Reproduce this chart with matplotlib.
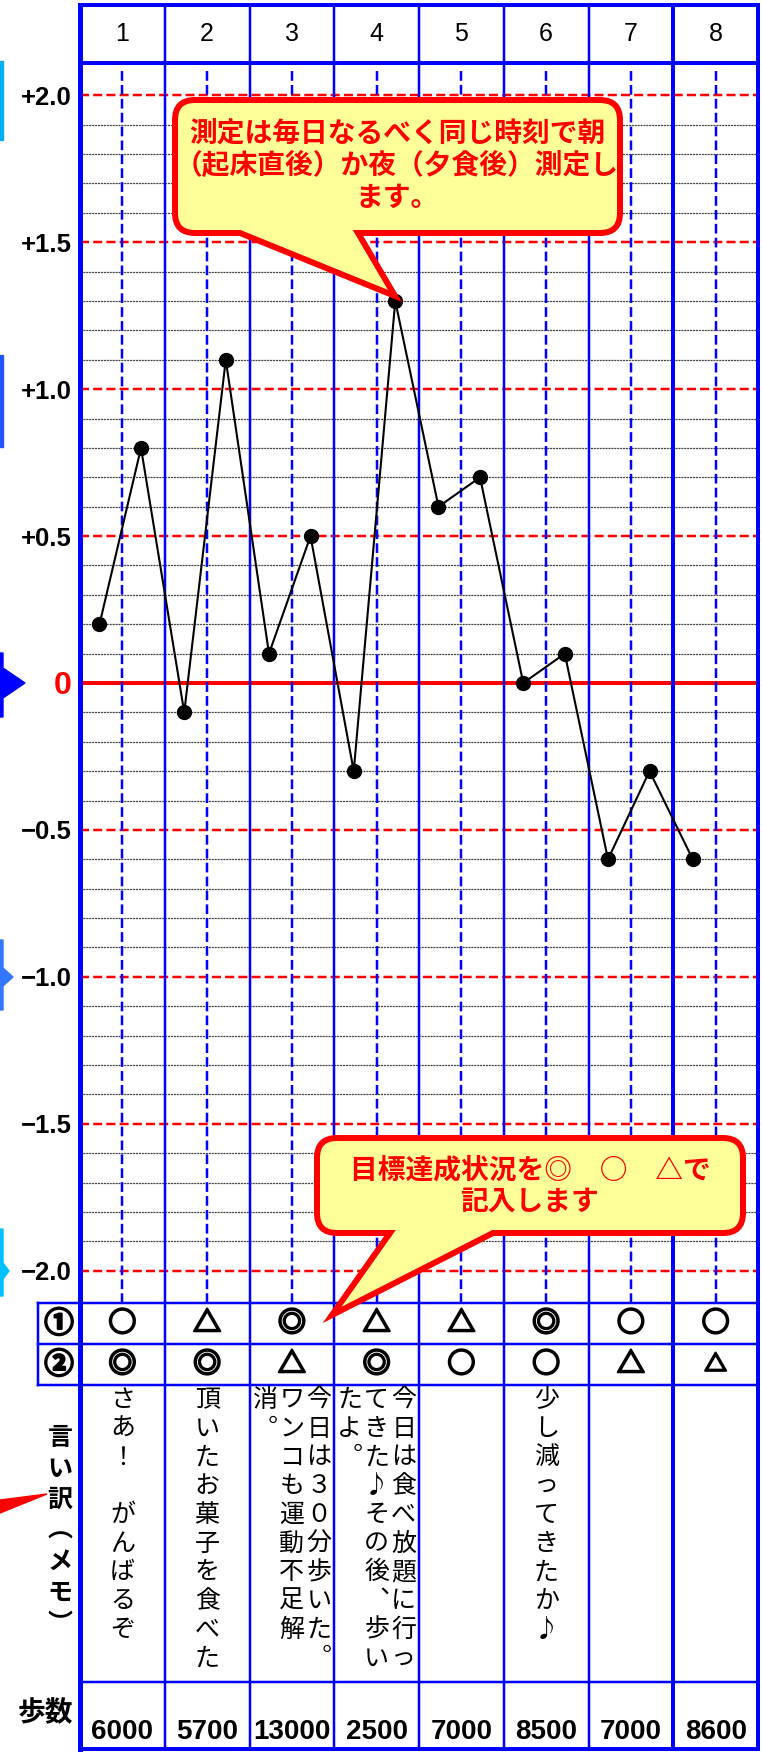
import numpy as np
import matplotlib
matplotlib.use("Agg")
import matplotlib.pyplot as plt
import matplotlib.patheffects as pe
from matplotlib.path import Path
from matplotlib.patches import PathPatch, Polygon

plt.rcParams['lines.scale_dashes'] = False
CJK = ['Noto Sans CJK JP', 'DejaVu Sans']
LAT = ['Liberation Sans', 'DejaVu Sans']

# ---- data ----
days = [1, 2, 3, 4, 5, 6, 7, 8]
morning = [0.2, -0.1, 0.1, -0.3, 0.6, 0.0, -0.6, -0.6]
evening = [0.8, 1.1, 0.5, 1.3, 0.7, 0.1, -0.3, np.nan]
ytick_vals = [2.0, 1.5, 1.0, 0.5, 0.0, -0.5, -1.0, -1.5, -2.0]
ytick_labels = ["+2.0", "+1.5", "+1.0", "+0.5", "0", "−0.5", "−1.0", "−1.5", "−2.0"]
goal1 = ["○", "△", "◎", "△", "△", "◎", "○", "○"]
goal2 = ["◎", "◎", "△", "◎", "○", "○", "△", "△"]
memo = [["さあ！　がんばるぞ"],
        ["頂いたお菓子を食べた"],
        ["今日は３０分歩いた。", "ワンコも運動不足解", "消。"],
        ["今日は食べ放題に行っ", "てきた♪その後、歩い", "たよ。"],
        [],
        ["少し減ってきたか♪"],
        [],
        []]
steps = [6000, 5700, 13000, 2500, 7000, 8500, 7000, 8600]
memo_label = "言い訳（メモ）"
steps_label = "歩数"
note_top = ["測定は毎日なるべく同じ時刻で朝", "（起床直後）か夜（夕食後）測定し", "ます。"]
note_bottom = ["目標達成状況を◎　○　△で", "記入します"]

# ---- layout (pixels) ----
W, H = 762, 1753
X0, X1 = 80, 758
Y_TOP, Y_HEAD, Y_CHART, Y_END = 5, 63, 1303, 1749
PX = 0.72          # points per pixel at dpi 100
UNIT = (X1 - X0) / 8.0
BLUE = '#0000FF'
RED = '#FF0000'
THICK = [pe.withStroke(linewidth=1.6, foreground='black')]


def rect(x0, y0, x1, y1):
    return [x0 / W, 1 - y1 / H, (x1 - x0) / W, (y1 - y0) / H]


def bare(a):
    for s in a.spines.values():
        s.set_visible(False)
    a.set_xticks([])
    a.set_yticks([])
    a.patch.set_visible(False)


def col_lines(a):
    for k in range(9):
        lw = 5 if k == 0 else (4 if k in (7, 8) else 2.5)
        a.axvline(k, color=BLUE, lw=lw * PX, clip_on=False, zorder=3)


fig = plt.figure(figsize=(W / 100, H / 100), dpi=100, facecolor='white')

# header
axh = fig.add_axes(rect(X0, Y_TOP, X1, Y_HEAD))
bare(axh)
axh.set_xlim(0, 8)
axh.set_ylim(0, 1)
col_lines(axh)
axh.axhline(1, color=BLUE, lw=4 * PX, clip_on=False)
axh.axhline(0, color=BLUE, lw=4 * PX, clip_on=False)
for k, d in enumerate(days):
    axh.text(k + 0.5, 0.5, str(d), ha='center', va='center', fontsize=18, family=LAT)

# chart
ax = fig.add_axes(rect(X0, Y_HEAD, X1, Y_CHART))
bare(ax)
ax.set_xlim(0, 8)
ax.set_ylim(-2.11, 2.11)
for v in np.round(np.arange(-2.0, 2.01, 0.1), 1):
    if abs(v * 2 - round(v * 2)) > 1e-6:
        ax.axhline(v, color='#444444', lw=0.9, ls=(0, (1.5, 0.6)), zorder=1)
for v in ytick_vals:
    if v != 0:
        ax.axhline(v, color=RED, lw=2.5 * PX, ls=(0, (6.5, 3)), zorder=2)
ax.axhline(0, color=RED, lw=4 * PX, zorder=2)
ax.vlines(np.arange(8) + 0.5, -2.11, 2.085, color=BLUE, lw=2.5 * PX,
          linestyles=[(0, (7, 3))], zorder=2)
col_lines(ax)

xs, ys = [], []
for k in range(8):
    xs += [k + 0.23, k + 0.72]
    ys += [morning[k], evening[k]]
ax.plot(xs, ys, color='black', lw=1.5, marker='o', ms=10, zorder=6)

ax.set_yticks(ytick_vals)
ax.set_yticklabels(ytick_labels)
ax.tick_params(axis='y', length=0, pad=6)
for t, v in zip(ax.get_yticklabels(), ytick_vals):
    t.set_family(LAT)
    t.set_fontweight('bold')
    t.set_fontsize(18.5)
    if v == 0:
        t.set_color(RED)
        t.set_fontsize(23)

# table below the chart (y in pixels from the chart bottom)
axt = fig.add_axes(rect(X0, Y_CHART, X1, Y_END))
bare(axt)
axt.set_xlim(0, 8)
axt.set_ylim(Y_END - Y_CHART, 0)
col_lines(axt)
xl = (38 - X0) / UNIT
for y in (0, 41, 82):
    axt.plot([xl, 8], [y, y], color=BLUE, lw=2.5 * PX, clip_on=False, zorder=3)
axt.plot([xl, xl], [0, 82], color=BLUE, lw=2.5 * PX, clip_on=False, zorder=3)
axt.axhline(379, color=BLUE, lw=2.5 * PX, zorder=3)
axt.axhline(446, color=BLUE, lw=4 * PX, clip_on=False, zorder=3)

xr = (59 - X0) / UNIT
axt.text(xr, 20.5, "①", ha='center', va='center', fontsize=21, fontweight='bold',
         family=CJK, clip_on=False, path_effects=THICK)
axt.text(xr, 61.5, "②", ha='center', va='center', fontsize=21, fontweight='bold',
         family=CJK, clip_on=False, path_effects=THICK)
for k in range(8):
    axt.text(k + 0.5, 20.5, goal1[k], ha='center', va='center', fontsize=20,
             fontweight='bold', family=CJK, path_effects=THICK)
    fs = 16 if k == 7 else 20
    axt.text(k + 0.5, 61.5, goal2[k], ha='center', va='center', fontsize=fs,
             fontweight='bold', family=CJK, path_effects=THICK)

vert = {'。': '︒', '、': '︑', '（': '︵', '）': '︶'}
line_gap = 27 / UNIT
for k, lines in enumerate(memo):
    n = len(lines)
    for i, line in enumerate(lines):
        x = k + 0.5 + ((n - 1) / 2 - i) * line_gap
        for j, ch in enumerate(line):
            axt.text(x, 97 + j * 28.7, vert.get(ch, ch), ha='center', va='center',
                     fontsize=18, family=CJK)

for j, ch in enumerate(memo_label):
    axt.text((60 - X0) / UNIT, 135 + j * 31, vert.get(ch, ch), ha='center', va='center',
             fontsize=18, fontweight='bold', family=CJK, clip_on=False)
axt.text((45 - X0) / UNIT, 410, steps_label, ha='center', va='center', fontsize=20,
         fontweight='bold', family=CJK, clip_on=False)
for k, s in enumerate(steps):
    axt.text(k + 0.5, 429, str(s), ha='center', va='center', fontsize=20,
             fontweight='bold', family=LAT)

# overlay: callouts and bits of cut-off shapes at the left edge
ov = fig.add_axes([0, 0, 1, 1])
ov.set_xlim(0, W)
ov.set_ylim(H, 0)
ov.axis('off')


def balloon(a, x0, y0, x1, y1, r, bl, br, tip):
    M, L, C, Z = Path.MOVETO, Path.LINETO, Path.CURVE3, Path.CLOSEPOLY
    verts = [(x0 + r, y0), (x1 - r, y0), (x1, y0), (x1, y0 + r), (x1, y1 - r),
             (x1, y1), (x1 - r, y1), (br, y1), tip, (bl, y1), (x0 + r, y1),
             (x0, y1), (x0, y1 - r), (x0, y0 + r), (x0, y0), (x0 + r, y0), (x0 + r, y0)]
    codes = [M, L, C, C, L, C, C, L, L, L, L, C, C, L, C, C, Z]
    a.add_patch(PathPatch(Path(verts, codes), facecolor='#FFFF99', edgecolor=RED,
                          lw=6 * PX, joinstyle='miter', zorder=8))


balloon(ov, 175, 100, 620, 233, 20, 240, 358, (395, 296))
for i, line in enumerate(note_top):
    ov.text(397, 134 + i * 32, line, ha='center', va='center', fontsize=20,
            fontweight='bold', color=RED, family=CJK, zorder=9)

balloon(ov, 317, 1138, 743, 1233, 20, 390, 493, (332, 1315))
for i, line in enumerate(note_bottom):
    ov.text(530, 1170 + i * 32, line, ha='center', va='center', fontsize=20,
            fontweight='bold', color=RED, family=CJK, zorder=9)

ov.add_patch(Polygon([(0, 61), (3, 61), (3, 140), (0, 140)], color='#00B0F0'))
ov.add_patch(Polygon([(0, 355), (3, 355), (3, 447), (0, 447)], color='#2255FF'))
ov.add_patch(Polygon([(0, 653), (3, 653), (3, 668), (25, 683), (3, 698), (3, 717), (0, 717)],
                     color=BLUE))
ov.add_patch(Polygon([(0, 940), (3, 940), (3, 968), (13, 977), (3, 986), (3, 1010), (0, 1010)],
                     color='#3377FF'))
ov.add_patch(Polygon([(0, 1229), (3, 1229), (3, 1263), (9, 1271), (3, 1279), (3, 1296), (0, 1296)],
                     color='#00C0FF'))
ov.add_patch(Polygon([(0, 1500), (47, 1494), (0, 1513)], color=RED))

fig.savefig('out.png', dpi=100)
